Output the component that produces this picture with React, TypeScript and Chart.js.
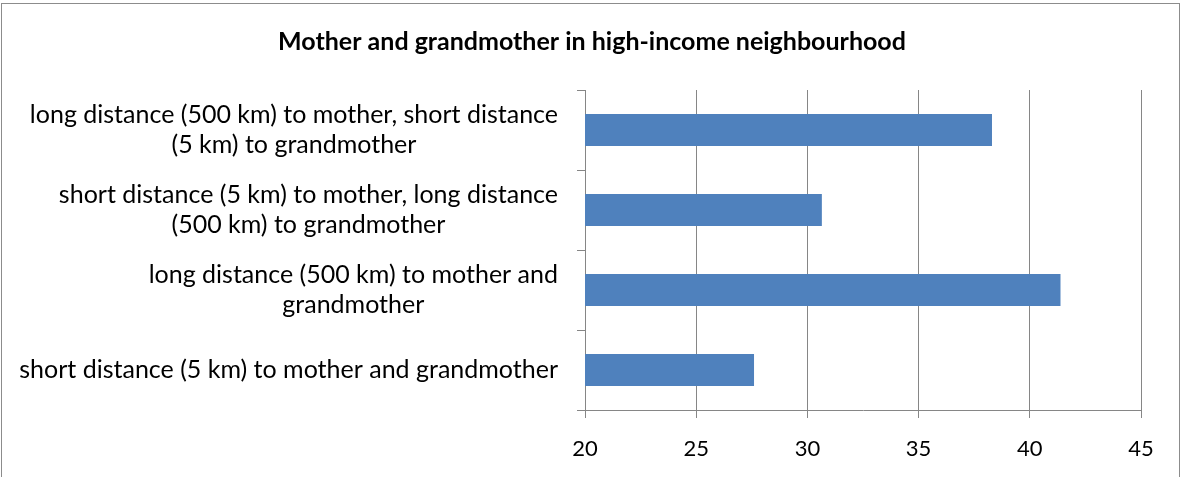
import React, { useEffect, useRef } from "react";
import { Chart, registerables } from "chart.js";

Chart.register(...registerables);

const FONT = "Lato, 'Open Sans', sans-serif";

const chartTitle = "Mother and grandmother in high-income neighbourhood";

// top-to-bottom order as shown
const categories: string[][] = [
  ["long distance (500 km) to mother, short distance", "(5 km) to grandmother"],
  ["short distance (5 km) to mother, long distance", "(500 km) to grandmother"],
  ["long distance (500 km) to mother and", "grandmother"],
  ["short distance (5 km) to mother and grandmother"],
];

const values: number[] = [38.3, 30.65, 41.38, 27.6];

const xTicks: number[] = [20, 25, 30, 35, 40, 45];

const blockLabels = {
  id: "blockLabels",
  afterDraw(chart: any) {
    const { ctx, chartArea } = chart;
    const yScale = chart.scales.y;
    ctx.save();
    ctx.font = `25px ${FONT}`;
    ctx.fillStyle = "#000000";
    ctx.textAlign = "center";
    ctx.textBaseline = "middle";
    const right = chartArea.left - 27;
    const lineH = 30;
    categories.forEach((lines, i) => {
      const cy = yScale.getPixelForValue(i);
      const w = Math.max(...lines.map((l) => ctx.measureText(l).width));
      const cx = right - w / 2;
      lines.forEach((l, j) => {
        ctx.fillText(l, cx, cy + (j - (lines.length - 1) / 2) * lineH);
      });
    });
    ctx.restore();
  },
};

export default function App() {
  const ref = useRef<HTMLCanvasElement | null>(null);

  useEffect(() => {
    if (!ref.current) return;
    const chart = new Chart(ref.current, {
      type: "bar",
      data: {
        labels: categories.map((c) => c.join(" ")),
        datasets: [
          {
            data: values,
            backgroundColor: "#4F81BD",
            borderColor: "#4F81BD",
            borderWidth: 0,
            barPercentage: 0.4,
            categoryPercentage: 1,
          },
        ],
      },
      options: {
        indexAxis: "y",
        animation: false,
        responsive: true,
        maintainAspectRatio: false,
        layout: { padding: { left: 43, right: 43, top: 0, bottom: 0 } },
        plugins: {
          legend: { display: false },
          tooltip: { enabled: false },
          title: {
            display: true,
            text: chartTitle,
            color: "#000000",
            font: { family: FONT, size: 25, weight: "bold", lineHeight: 1.2 },
            padding: { top: 27, bottom: 33 },
          },
        },
        scales: {
          x: {
            type: "linear",
            min: 20,
            max: 45,
            afterBuildTicks: (scale: any) => {
              scale.ticks = xTicks.map((v) => ({ value: v }));
            },
            afterFit: (scale: any) => {
              scale.height = 67;
            },
            grid: { color: "#868686", lineWidth: 1, tickLength: 8, drawTicks: true },
            border: { color: "#868686", width: 1 },
            ticks: {
              color: "#000000",
              font: { family: FONT, size: 22 },
              padding: 18,
              maxRotation: 0,
            },
          },
          y: {
            type: "category",
            offset: true,
            afterFit: (scale: any) => {
              scale.width = 542;
            },
            grid: {
              offset: true,
              drawOnChartArea: false,
              drawTicks: true,
              tickLength: 8,
              color: "#868686",
            },
            border: { color: "#868686", width: 1 },
            ticks: { display: false },
          },
        },
      },
      plugins: [blockLabels],
    });
    return () => chart.destroy();
  }, []);

  return (
    <div
      style={{
        position: "fixed",
        left: 0,
        top: 0,
        width: 1184,
        height: 477,
        overflow: "hidden",
        background: "#ffffff",
      }}
    >
      <canvas ref={ref} />
      <div
        style={{
          position: "absolute",
          left: 1,
          top: 3,
          width: 1179,
          height: 500,
          border: "1px solid #8c8c8c",
          boxSizing: "border-box",
          pointerEvents: "none",
        }}
      />
    </div>
  );
}
